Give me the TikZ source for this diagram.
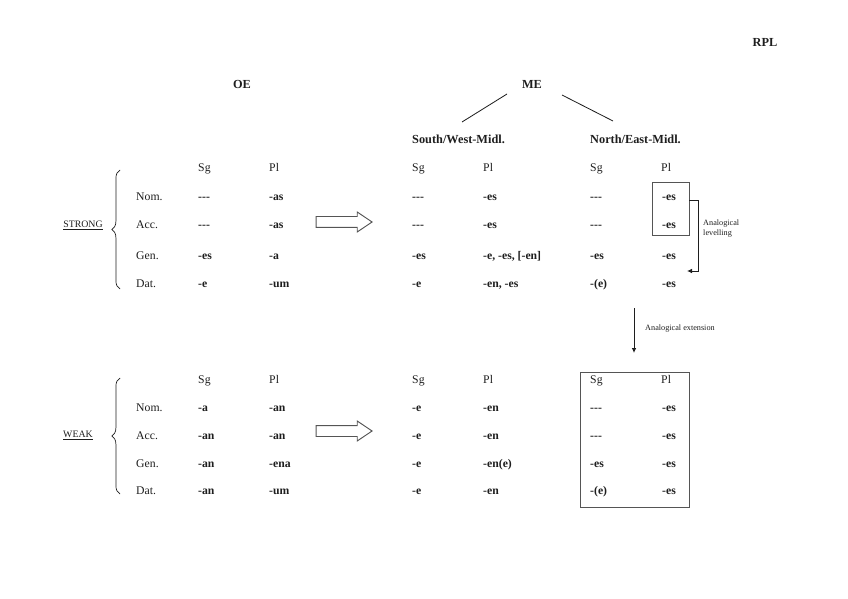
\documentclass[tikz,border=0pt]{standalone}
\usepackage{fontspec}
\setmainfont{Liberation Serif}[Ligatures=TeXOff]
\usetikzlibrary{arrows.meta,shapes.arrows,positioning,decorations.pathreplacing}
\definecolor{InkGray}  {RGB}{ 30, 30, 30}
\definecolor{FrameGray}{RGB}{ 85, 85, 85}
\tikzset{
  %% table cells
  cell/.style={anchor=west,inner sep=0pt,text height=1.5ex,text depth=0.35ex,
               font=\fontsize{10}{12}\selectfont,text=InkGray},
  endg/.style={cell,font=\fontsize{10}{12}\selectfont\bfseries},
  head/.style={cell,font=\fontsize{10.5}{12}\selectfont\bfseries},
  decl/.style={inner sep=0pt,font=\fontsize{8.4}{10}\selectfont,text=InkGray},
  note/.style={inner sep=0pt,align=left,font=\fontsize{7}{8}\selectfont,text=InkGray},
  %% frames and arrows
  frame/.style={draw=FrameGray,line width=0.8pt,inner sep=0pt},
  shiftarr/.style={single arrow,draw=FrameGray,line width=0.8pt,
                   inner xsep=0pt,inner ysep=0.15cm,minimum height=1.68cm,
                   single arrow head extend=0.135cm,single arrow tip angle=68},
  linkarr/.style={-{Latex[length=1.5mm,width=1.4mm]},line width=0.8pt,color=InkGray},
  branch/.style={line width=0.7pt,color=InkGray},
  brace/.style={decorate,decoration={brace,amplitude=7pt},line width=0.6pt,color=InkGray},
}
\begin{document}
\begin{tikzpicture}[x=0.03cm,y=-0.03cm]
  \useasboundingbox (0,0) rectangle (848,599);

  %% titles
  \node[head,anchor=center] (RPL) at (765,43) {RPL};
  \node[head,anchor=center] (OE)  at (242,85) {OE};
  \node[head,anchor=center] (ME)  at (532,85) {ME};
  \node[head] (SW) at (412,140) {South/West-Midl.};
  \node[head] (NE) at (590,140) {North/East-Midl.};
  \coordinate (meL) at (507,94);  \coordinate (swTop) at (462,122);
  \coordinate (meR) at (562,95);  \coordinate (neTop) at (613,121);
  \draw[branch] (meL) -- (swTop);
  \draw[branch] (meR) -- (neTop);

  %% strong declension
  \node[decl] (STRONG) at (83,225) {\underline{STRONG}};
  \coordinate (sBrBot) at (120,289); \coordinate (sBrTop) at (120,170);
  \draw[brace] (sBrBot) -- (sBrTop);
  \foreach \c/\x in {OE/198,SW/412,NE/590}{
    \node[cell] (sHsg\c) at (\x,168) {Sg};
    \node[cell] (sHpl\c) at (\x+71,168) {Pl};
  }
  \foreach \r/\lab/\oa/\ob/\sa/\sb/\na/\nb/\y in {
      1/Nom./---/-as/---/-es/---/-es/197,
      2/Acc./---/-as/---/-es/---/-es/225,
      3/Gen./-es/-a/-es/{-e, -es, [-en]}/-es/-es/256,
      4/Dat./-e/-um/-e/{-en, -es}/-(e)/-es/284}{
    \node[cell] (sLab\r) at (136,\y) {\lab};
    \node[endg] (sOEsg\r) at (198,\y) {\oa};
    \node[endg] (sOEpl\r) at (269,\y) {\ob};
    \node[endg] (sSWsg\r) at (412,\y) {\sa};
    \node[endg] (sSWpl\r) at (483,\y) {\sb};
    \node[endg] (sNEsg\r) at (590,\y) {\na};
    \node[endg] (sNEpl\r) at (662,\y) {\nb};
  }
  \node[shiftarr] (sShift) at (340,222) {};

  %% levelling inside the northern plural
  \node[frame,minimum width=1.11cm,minimum height=1.59cm] (lvBox) at (670.5,208.5) {};
  \coordinate (lvEnd) at (687,271);
  \draw[linkarr] ([yshift=0.25cm]lvBox.east) -- ++(9,0) |- (lvEnd);
  \node[note,anchor=north west] (lvNote) at (703,220) {Analogical\\levelling};

  %% extension to the weak nouns
  \coordinate (extTop) at (634,308); \coordinate (extBot) at (634,353);
  \draw[linkarr] (extTop) -- (extBot);
  \node[note,anchor=west] (extNote) at (645,329) {Analogical extension};

  %% weak declension
  \node[decl] (WEAK) at (78,435) {\underline{WEAK}};
  \coordinate (wBrBot) at (120,494); \coordinate (wBrTop) at (120,378);
  \draw[brace] (wBrBot) -- (wBrTop);
  \foreach \c/\x in {OE/198,SW/412,NE/590}{
    \node[cell] (wHsg\c) at (\x,380) {Sg};
    \node[cell] (wHpl\c) at (\x+71,380) {Pl};
  }
  \foreach \r/\lab/\oa/\ob/\sa/\sb/\na/\nb/\y in {
      1/Nom./-a/-an/-e/-en/---/-es/408,
      2/Acc./-an/-an/-e/-en/---/-es/436,
      3/Gen./-an/-ena/-e/-en(e)/-es/-es/464,
      4/Dat./-an/-um/-e/-en/-(e)/-es/491}{
    \node[cell] (wLab\r) at (136,\y) {\lab};
    \node[endg] (wOEsg\r) at (198,\y) {\oa};
    \node[endg] (wOEpl\r) at (269,\y) {\ob};
    \node[endg] (wSWsg\r) at (412,\y) {\sa};
    \node[endg] (wSWpl\r) at (483,\y) {\sb};
    \node[endg] (wNEsg\r) at (590,\y) {\na};
    \node[endg] (wNEpl\r) at (662,\y) {\nb};
  }
  \node[shiftarr] (wShift) at (340,431) {};
  \node[frame,minimum width=3.27cm,minimum height=4.05cm] (wNEBox) at (634.5,439.5) {};
\end{tikzpicture}
\end{document}
